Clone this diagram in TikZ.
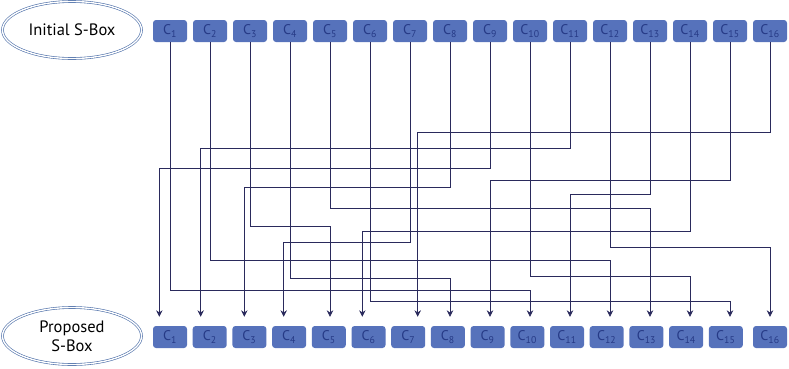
\documentclass[tikz,border=0pt]{standalone}
\usepackage{fontspec}
\setmainfont{PT Sans}
\usetikzlibrary{arrows.meta,shapes.geometric,positioning}
\definecolor{cellblue}{HTML}{5672BB}
\definecolor{celltext}{HTML}{263A86}
\definecolor{wirenavy}{HTML}{2A2A5C}
\definecolor{ringblue}{HTML}{4C6EA8}

\begin{document}
\begin{tikzpicture}[
  x=1pt, y=-1pt,
  cellbox/.style={fill=cellblue, rounded corners=3pt, minimum width=34pt,
                  minimum height=22pt, inner sep=0pt, text=celltext,
                  font=\fontsize{14}{14}\selectfont},
  tagbox/.style={ellipse, draw=ringblue, double=white, double distance=1.4pt,
                 line width=0.6pt, minimum width=139pt, minimum height=57pt,
                 align=center, font=\fontsize{16.5}{19}\selectfont},
  wire/.style={draw=wirenavy, line width=0.8pt,
               -{Stealth[length=6.5pt,width=6.5pt]}, shorten >=9pt}]
  \useasboundingbox (0,0) rectangle (789,368);
  \node[tagbox] (init) at (72,30) {Initial S-Box};
  \node[tagbox] (prop) at (72,336) {Proposed\\S-Box};
  \foreach \i in {1,...,16}
    \node[cellbox] (t\i) at ({130+40*\i},31) {C\textsubscript{\i}};
  \foreach \i in {1,...,15}
    \node[cellbox] (b\i) at ({130.3+39.7*\i},337) {C\textsubscript{\i}};
  \node[cellbox] (b16) at (770,337) {C\textsubscript{16}};
  % permutation wires, top to bottom
  \draw[wire] (t16.south) -- (t16.south |- 0,132) -| ([xshift=9.5pt]b7.north);
  \draw[wire] (t11.south) -- (t11.south |- 0,148) -| ([xshift=-9pt]b2.north);
  \draw[wire] (t9.south) -- (t9.south |- 0,168) -| ([xshift=-10.7pt]b1.north);
  \draw[wire] (t15.south) -- (t15.south |- 0,180) -| ([xshift=2.4pt]b9.north);
  \draw[wire] (t8.south) -- (t8.south |- 0,187) -| ([xshift=-5.1pt]b3.north);
  \draw[wire] (t13.south) -- (t13.south |- 0,194) -| ([xshift=3pt]b11.north);
  \draw[wire] (t5.south) -- (t5.south |- 0,208) -| ([xshift=3.6pt]b13.north);
  \draw[wire] (t3.south) -- (t3.south |- 0,226) -| ([xshift=1.2pt]b5.north);
  \draw[wire] (t14.south) -- (t14.south |- 0,231) -| ([xshift=-6.2pt]b6.north);
  \draw[wire] (t7.south) -- (t7.south |- 0,242) -| ([xshift=-5.4pt]b4.north);
  \draw[wire] (t12.south) -- (t12.south |- 0,247) -| (b16.north);
  \draw[wire] (t2.south) -- (t2.south |- 0,260) -| ([xshift=3.3pt]b12.north);
  \draw[wire] (t10.south) -- (t10.south |- 0,276) -| ([xshift=3.9pt]b14.north);
  \draw[wire] (t4.south) -- (t4.south |- 0,278) -| ([xshift=2.1pt]b8.north);
  \draw[wire] (t1.south) -- (t1.south |- 0,290) -| ([xshift=2.7pt]b10.north);
  \draw[wire] (t6.south) -- (t6.south |- 0,301) -| ([xshift=4.2pt]b15.north);
\end{tikzpicture}
\end{document}
